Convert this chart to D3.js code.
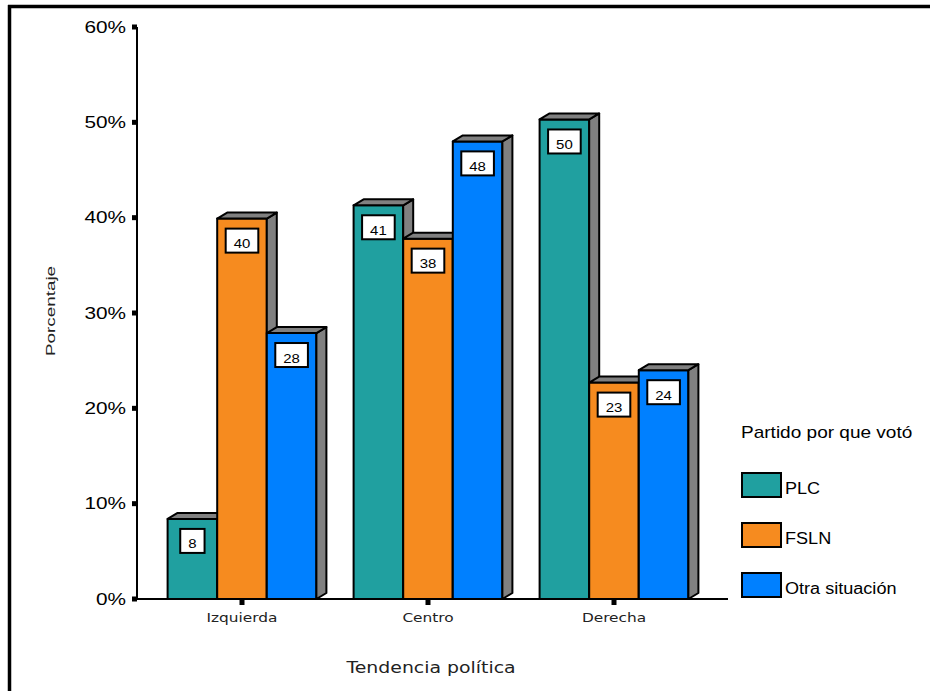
<!DOCTYPE html>
<html>
<head>
<meta charset="utf-8">
<script src="https://cdn.jsdelivr.net/npm/d3@7/dist/d3.min.js"></script>
<style>
  html, body { margin: 0; padding: 0; background: #fff; }
  svg { display: block; }
</style>
</head>
<body>
<svg id="chart" width="930" height="691"></svg>
<script>
// ---- Data ----
const categories = ["Izquierda", "Centro", "Derecha"];
const seriesNames = ["PLC", "FSLN", "Otra situación"];
const plcValues = [8.4, 41.3, 50.3];
const fslnValues = [39.9, 37.8, 22.7];
const otraValues = [27.9, 48.0, 24.0];
const yTickValues = [0, 10, 20, 30, 40, 50, 60];
const yTickLabels = ["0%", "10%", "20%", "30%", "40%", "50%", "60%"];
const seriesColors = ["#20a0a0", "#f68b1f", "#0080ff"];
const xAxisTitle = "Tendencia política";
const yAxisTitle = "Porcentaje";
const legendTitle = "Partido por que votó";

const seriesValues = [plcValues, fslnValues, otraValues];

const svg = d3.select("#chart");
const W = 930, H = 691;

// frame
svg.append("line").attr("x1", 9.5).attr("y1", 5).attr("x2", 9.5).attr("y2", H)
  .attr("stroke", "#000").attr("stroke-width", 3.5);
svg.append("line").attr("x1", 8).attr("y1", 6.5).attr("x2", W).attr("y2", 6.5)
  .attr("stroke", "#000").attr("stroke-width", 3.5);

// scales
const y = d3.scaleLinear().domain([0, 60]).range([599, 27]);
const x0 = d3.scaleBand().domain(categories).range([149, 707]).paddingInner(0.2).paddingOuter(0.1);
const x1 = d3.scaleBand().domain(seriesNames).range([0, x0.bandwidth()]).padding(0);
const dx = 10, dy = 6;
const axisX = 137, axisRight = 728;

function stretchedText(parent, x, yPos, txt, opts) {
  const g = parent.append("g")
    .attr("transform", `translate(${x},${yPos})` + (opts.rotate ? ` rotate(${opts.rotate})` : "") + ` scale(${opts.sx || 1},1)`);
  return g.append("text")
    .attr("x", 0).attr("y", 0)
    .attr("text-anchor", opts.anchor || "start")
    .attr("font-family", opts.family || "'Liberation Sans', Arial, sans-serif")
    .attr("font-size", opts.size)
    .attr("fill", opts.fill || "#000")
    .text(txt);
}

// bars
const barsG = svg.append("g");
categories.forEach((cat, ci) => {
  seriesNames.forEach((s, si) => {
    const v = seriesValues[si][ci];
    const xl = x0(cat) + x1(s);
    const xr = xl + x1.bandwidth();
    const yt = y(v), yb = y(0);
    // front
    barsG.append("rect")
      .attr("x", xl).attr("y", yt).attr("width", xr - xl).attr("height", yb - yt)
      .attr("fill", seriesColors[si]).attr("stroke", "#000").attr("stroke-width", 2)
      .attr("stroke-linejoin", "round");
    // side
    barsG.append("path")
      .attr("d", `M${xr},${yt} L${xr + dx},${yt - dy} L${xr + dx},${yb - dy} L${xr},${yb} Z`)
      .attr("fill", "#808080").attr("stroke", "#000").attr("stroke-width", 2)
      .attr("stroke-linejoin", "round");
    // top
    barsG.append("path")
      .attr("d", `M${xl},${yt} L${xl + dx},${yt - dy} L${xr + dx},${yt - dy} L${xr},${yt} Z`)
      .attr("fill", "#808080").attr("stroke", "#000").attr("stroke-width", 2)
      .attr("stroke-linejoin", "round");
  });
});

// value labels
const labG = svg.append("g");
categories.forEach((cat, ci) => {
  seriesNames.forEach((s, si) => {
    const v = seriesValues[si][ci];
    const cx = x0(cat) + x1(s) + x1.bandwidth() / 2;
    const yt = y(v);
    const g = labG.append("g");
    const box = g.append("rect");
    const t = stretchedText(g, cx, yt + 29.5, String(Math.round(v)), { size: 13, sx: 1.15, anchor: "middle" });
    const tw = t.node().getComputedTextLength() * 1.15;
    const bw = tw + 16;
    box.attr("x", cx - bw / 2).attr("y", yt + 10).attr("width", bw).attr("height", 24)
      .attr("fill", "#fff").attr("stroke", "#000").attr("stroke-width", 2);
  });
});

// axes
svg.append("line").attr("x1", axisX).attr("y1", y(60)).attr("x2", axisX).attr("y2", y(0))
  .attr("stroke", "#000").attr("stroke-width", 2);
svg.append("line").attr("x1", axisX).attr("y1", y(0)).attr("x2", axisRight).attr("y2", y(0))
  .attr("stroke", "#000").attr("stroke-width", 2);

yTickValues.forEach((v, i) => {
  svg.append("rect").attr("x", axisX - 5).attr("y", y(v) - 2.5).attr("width", 5).attr("height", 5).attr("fill", "#000");
  stretchedText(svg, 126, y(v) + 5.5, yTickLabels[i], { size: 16, sx: 1.3, anchor: "end" });
});

categories.forEach(cat => {
  const cx = x0(cat) + x0.bandwidth() / 2;
  svg.append("rect").attr("x", cx - 2.5).attr("y", y(0) + 1).attr("width", 5).attr("height", 5).attr("fill", "#000");
  stretchedText(svg, cx, 622, cat, { size: 12, sx: 1.28, anchor: "middle", family: "'DejaVu Sans', Verdana, sans-serif", fill: "#222" });
});

// axis titles
stretchedText(svg, 431, 673, xAxisTitle, { size: 16, sx: 1.18, anchor: "middle", family: "'DejaVu Sans', Verdana, sans-serif", fill: "#222" });
stretchedText(svg, 55, 311, yAxisTitle, { size: 13, sx: 1.45, anchor: "middle", rotate: -90, fill: "#222" });

// legend
const legG = svg.append("g");
stretchedText(legG, 741, 438, legendTitle, { size: 17, sx: 1.12 });
const legendY = [473, 523, 573];
seriesNames.forEach((s, i) => {
  legG.append("rect").attr("x", 742).attr("y", legendY[i]).attr("width", 39).attr("height", 24)
    .attr("fill", seriesColors[i]).attr("stroke", "#000").attr("stroke-width", 2);
  stretchedText(legG, 785, legendY[i] + 21, s, { size: 16, sx: 1.13 });
});
</script>
</body>
</html>
